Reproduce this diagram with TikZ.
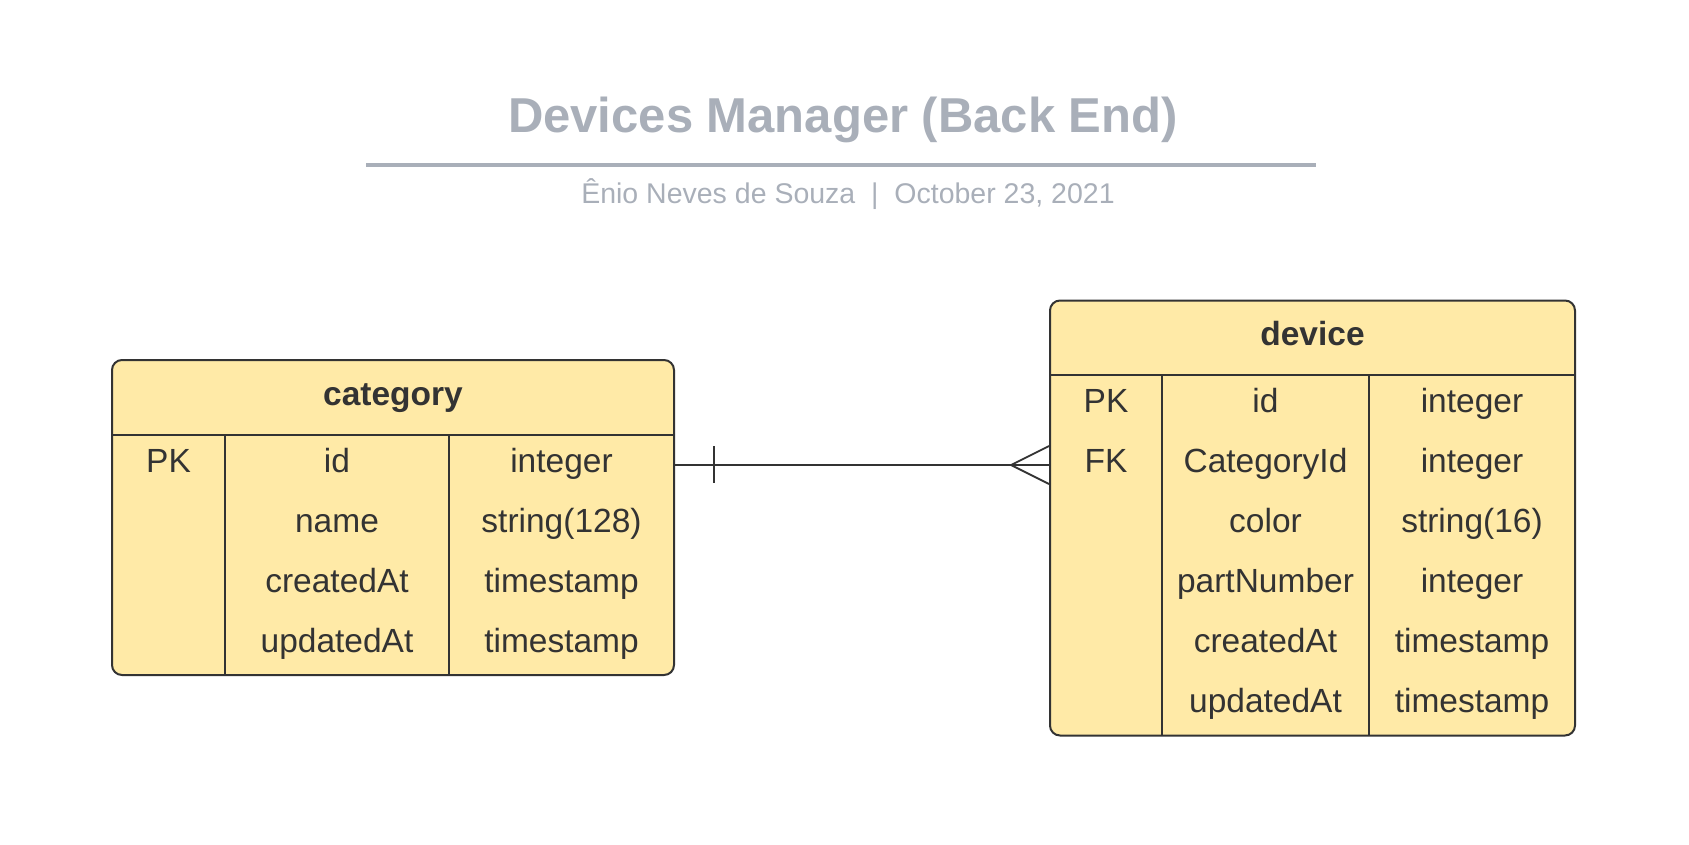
\documentclass[tikz,border=0pt]{standalone}
\usepackage{fontspec}
\setmainfont{Liberation Sans}
\usetikzlibrary{calc}

\definecolor{erfill}{HTML}{FFEAA7}
\definecolor{erline}{HTML}{333333}
\definecolor{titlegray}{HTML}{A9AFB9}

\tikzset{
  ertable/.style={draw=erline, line width=2pt, fill=erfill, rounded corners=10pt, inner sep=0pt},
  ersep/.style={draw=erline, line width=1.6pt},
  cell/.style={text=erline, inner sep=0pt, anchor=center, text height=24pt, text depth=10pt,
    font=\fontsize{33.5}{40}\selectfont},
  head/.style={cell, text depth=13pt, font=\fontsize{33.5}{40}\selectfont\bfseries},
  rel/.style={draw=erline, line width=1.8pt},
  tick/.style={draw=erline, line width=1.2pt},
}

\begin{document}
\begin{tikzpicture}[x=1pt,y=-1pt]
  \useasboundingbox (0,0) rectangle (1689,844);

  % Titulo
  \node[anchor=base, text=titlegray, inner sep=0pt, font=\fontsize{49}{56}\selectfont\bfseries]
    (title) at (843,132.5) {Devices Manager (Back End)};
  \draw[titlegray, line width=4pt] (366,165) -- (1316,165);
  \node[anchor=base, text=titlegray, inner sep=0pt, font=\fontsize{28.5}{34}\selectfont]
    (subtitle) at (848,203) {Ênio Neves de Souza\ \ |\ \ October 23, 2021};

  % Tabela category (esquerda)
  \node[ertable, minimum width=562, minimum height=315] (Cbox) at (393,517.5) {};
  \draw[ersep] (112,435) -- (674,435);
  \draw[ersep] (225,435) -- (225,675);
  \draw[ersep] (449,435) -- (449,675);
  \node[head] (Chead) at (393,399.5) {category};
  \node[cell] (Cpk) at (168.5,465) {PK};
  \node[cell] (Cid) at (337,465) {id};
  \node[cell] (Cidt) at (561.5,465) {integer};
  \node[cell] (Cname) at (337,525) {name};
  \node[cell] (Cnamet) at (561.5,525) {string(128)};
  \node[cell] (Cca) at (337,585) {createdAt};
  \node[cell] (Ccat) at (561.5,585) {timestamp};
  \node[cell] (Cua) at (337,645) {updatedAt};
  \node[cell] (Cuat) at (561.5,645) {timestamp};

  % Tabela device (direita)
  \node[ertable, minimum width=525, minimum height=435] (Dbox) at (1312.5,518) {};
  \draw[ersep] (1050,375) -- (1575,375);
  \draw[ersep] (1162,375) -- (1162,735.5);
  \draw[ersep] (1369,375) -- (1369,735.5);
  \node[head] (Dhead) at (1312.5,339.75) {device};
  \node[cell] (Dpk) at (1106,405) {PK};
  \node[cell] (Did) at (1265.5,405) {id};
  \node[cell] (Didt) at (1472,405) {integer};
  \node[cell] (Dfk) at (1106,465) {FK};
  \node[cell] (Dcid) at (1265.5,465) {CategoryId};
  \node[cell] (Dcidt) at (1472,465) {integer};
  \node[cell] (Dcolor) at (1265.5,525) {color};
  \node[cell] (Dcolort) at (1472,525) {string(16)};
  \node[cell] (Dpart) at (1265.5,585) {partNumber};
  \node[cell] (Dpartt) at (1472,585) {integer};
  \node[cell] (Dca) at (1265.5,645) {createdAt};
  \node[cell] (Dcat) at (1472,645) {timestamp};
  \node[cell] (Dua) at (1265.5,705) {updatedAt};
  \node[cell] (Duat) at (1472,705) {timestamp};

  % Relacao um-para-muitos
  \coordinate (Cout) at (Cidt -| Cbox.east);
  \coordinate (Din) at (Dfk -| Dbox.west);
  \draw[rel] (Cout) -- (Din);
  \draw[tick] ($(Cout)+(39,-19)$) -- ($(Cout)+(39,18)$);
  \draw[rel] ($(Din)+(0,-19)$) -- ($(Din)+(-38,0)$) -- ($(Din)+(0,19)$);
\end{tikzpicture}
\end{document}
